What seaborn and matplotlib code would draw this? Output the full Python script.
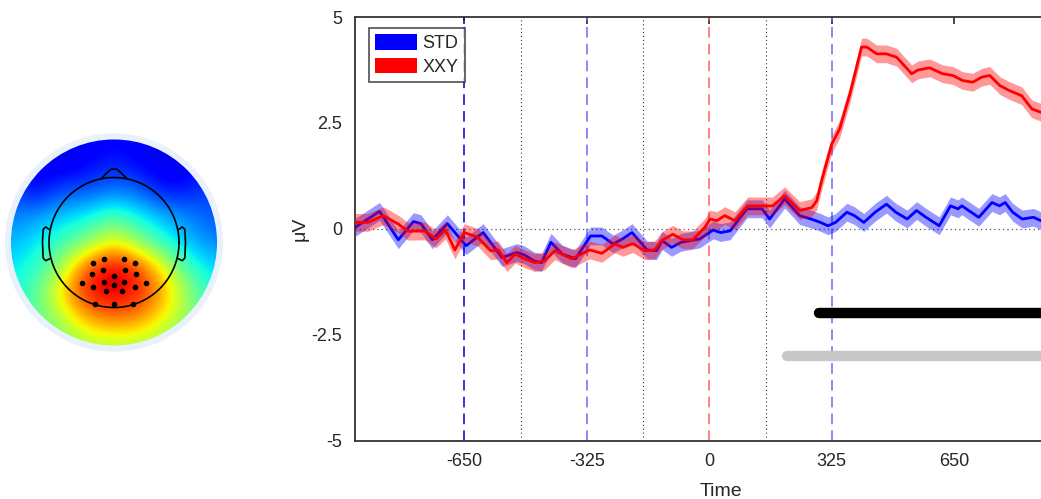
import numpy as np
import pandas as pd
import matplotlib
matplotlib.use("Agg")
import matplotlib.pyplot as plt
from matplotlib.patches import Circle, Patch
import seaborn as sns

# ---------------- ERP waveforms (time in ms, amplitude in microvolts) ----------------
std_time = [-940, -875, -825, -785, -765, -735, -695, -645, -600, -550, -510, -490,
            -465, -445, -420, -390, -355, -315, -285, -255, -230, -205, -165, -140,
            -125, -100, -75, -25, 10, 30, 55, 100, 140, 160, 200, 240, 270, 295, 315,
            335, 365, 385, 410, 440, 470, 495, 525, 550, 575, 610, 640, 660, 670, 715,
            750, 770, 785, 805, 830, 860, 880]
std_amp = [0.03, 0.41, -0.26, 0.17, 0.12, -0.26, 0.12, -0.40, -0.09, -0.68, -0.56, -0.62,
           -0.76, -0.80, -0.32, -0.60, -0.71, -0.17, -0.17, -0.36, -0.24, -0.09, -0.50, -0.52,
           -0.28, -0.44, -0.32, -0.24, -0.03, -0.09, -0.05, 0.47, 0.47, 0.23, 0.70, 0.31, 0.23,
           0.15, 0.07, 0.15, 0.39, 0.31, 0.15, 0.39, 0.58, 0.39, 0.23, 0.43, 0.27, 0.07, 0.54,
           0.47, 0.54, 0.27, 0.62, 0.54, 0.62, 0.39, 0.23, 0.27, 0.19]

xxy_time = [-940, -905, -865, -825, -800, -755, -725, -700, -675, -650, -615, -580, -560,
            -537, -515, -490, -463, -437, -410, -365, -317, -285, -251, -229, -203, -171,
            -145, -126, -97, -70, -44, -12, 2, 20, 41, 68, 102, 134, 168, 200, 240, 272,
            285, 300, 325, 346, 373, 404, 418, 444, 470, 497, 537, 554, 585, 619, 646, 672,
            699, 723, 744, 771, 797, 829, 856, 880]
xxy_amp = [0.15, 0.15, 0.31, 0.11, -0.06, -0.05, -0.24, -0.03, -0.50, -0.09, -0.20, -0.52,
           -0.50, -0.80, -0.60, -0.71, -0.80, -0.76, -0.52, -0.71, -0.50, -0.58, -0.36, -0.44,
           -0.35, -0.52, -0.50, -0.28, -0.13, -0.26, -0.26, 0.03, 0.23, 0.19, 0.31, 0.19, 0.54,
           0.54, 0.54, 0.78, 0.43, 0.50, 0.66, 1.20, 2.00, 2.36, 3.18, 4.29, 4.29, 4.13, 4.13,
           4.05, 3.66, 3.75, 3.80, 3.66, 3.62, 3.50, 3.46, 3.58, 3.62, 3.38, 3.26, 3.14, 2.83,
           2.75]

# standard error half-widths of the shaded bands
std_sem = 0.21
xxy_sem = 0.21

conditions = ["STD", "XXY"]
cond_colors = {"STD": "#0000ff", "XXY": "#ff0000"}

# event markers
blue_events = [-650, -325, 325]
red_events = [0]
dotted_events = [-500, -175, 150]

# significance bars: (start time, level)
sig_black = (290, -2.0)
sig_gray = (205, -3.0)

x_ticks = [-650, -325, 0, 325, 650]
y_ticks = [-5, -2.5, 0, 2.5, 5]
y_tick_labels = ["-5", "-2.5", "0", "2.5", "5"]

# ---------------- scalp map values (rows top->bottom, columns left->right) ----------------
topo_values = [
    [0.15, 0.12, 0.10, 0.10, 0.12, 0.10, 0.10, 0.12, 0.15],
    [0.15, 0.12, 0.08, 0.12, 0.16, 0.12, 0.08, 0.12, 0.15],
    [0.20, 0.10, 0.20, 0.20, 0.24, 0.22, 0.12, 0.15, 0.20],
    [0.25, 0.28, 0.33, 0.36, 0.44, 0.36, 0.30, 0.25, 0.20],
    [0.30, 0.35, 0.42, 0.50, 0.66, 0.50, 0.38, 0.30, 0.25],
    [0.35, 0.40, 0.55, 0.86, 0.95, 0.86, 0.62, 0.40, 0.33],
    [0.38, 0.45, 0.70, 0.90, 0.93, 0.88, 0.72, 0.50, 0.38],
    [0.42, 0.45, 0.55, 0.72, 0.78, 0.75, 0.62, 0.50, 0.42],
    [0.45, 0.45, 0.50, 0.55, 0.55, 0.55, 0.50, 0.45, 0.45],
]
elec_x = [-0.32, -0.15, 0.15, 0.32, -0.17, 0.17, -0.34, 0.0, 0.34, -0.49, -0.15, 0.15,
          0.49, -0.32, 0.0, 0.32, -0.12, 0.12, -0.29, 0.0, 0.29]
elec_y = [-0.31, -0.25, -0.25, -0.31, -0.42, -0.42, -0.49, -0.51, -0.49, -0.62, -0.60,
          -0.60, -0.62, -0.69, -0.66, -0.69, -0.75, -0.75, -0.94, -0.95, -0.94]

# ---------------- style ----------------
sns.set_style("white")
plt.rcParams["font.family"] = ["Liberation Sans", "DejaVu Sans"]
plt.rcParams["text.color"] = "#262626"
plt.rcParams["axes.labelcolor"] = "#262626"
plt.rcParams["xtick.color"] = "#262626"
plt.rcParams["ytick.color"] = "#262626"

W, H = 1041, 499
fig = plt.figure(figsize=(W / 100, H / 100), dpi=100)

xlim = (-940, 1000)
px_per_ms = 0.3769
ax_left = 355
ax_top, ax_bottom = 17, 440.5
ax_w = (xlim[1] - xlim[0]) * px_per_ms
ax = fig.add_axes([ax_left / W, 1 - ax_bottom / H, ax_w / W, (ax_bottom - ax_top) / H])

# reference lines
ax.axhline(0, color="#555555", lw=0.9, ls=(0, (1, 2.5)), zorder=1)
for t in dotted_events:
    ax.axvline(t, color="#333333", lw=0.8, ls=(0, (1, 2.5)), zorder=1)
for i, t in enumerate(blue_events):
    ax.axvline(t, color="#0000dd" if i == 0 else "#6a6aff", lw=1.1,
               ls=(0, (7, 4)), zorder=1.5)
for t in red_events:
    ax.axvline(t, color="#ff6060", lw=1.1, ls=(0, (7, 4)), zorder=1.5)

# waveforms with standard-error bands
std_df = pd.DataFrame({"time": std_time, "amp": std_amp, "cond": "STD"})
xxy_df = pd.DataFrame({"time": xxy_time, "amp": xxy_amp, "cond": "XXY"})

ax.fill_between(std_df["time"], std_df["amp"] - std_sem, std_df["amp"] + std_sem,
                color=cond_colors["STD"], alpha=0.4, lw=0, zorder=2)
sns.lineplot(data=std_df, x="time", y="amp", color=cond_colors["STD"], lw=2.0,
             sort=False, estimator=None, ax=ax, zorder=3)
ax.fill_between(xxy_df["time"], xxy_df["amp"] - xxy_sem, xxy_df["amp"] + xxy_sem,
                color=cond_colors["XXY"], alpha=0.4, lw=0, zorder=4)
sns.lineplot(data=xxy_df, x="time", y="amp", color=cond_colors["XXY"], lw=2.0,
             sort=False, estimator=None, ax=ax, zorder=5)

# significance bars
ax.plot([sig_black[0], xlim[1] + 50], [sig_black[1]] * 2, color="black", lw=7.5,
        solid_capstyle="round", zorder=6, clip_on=False)
ax.plot([sig_gray[0], xlim[1] + 50], [sig_gray[1]] * 2, color="#c8c8c8", lw=7.5,
        solid_capstyle="round", zorder=6, clip_on=False)

ax.set_xlim(*xlim)
ax.set_ylim(-5, 5)
ax.set_xticks(x_ticks)
ax.set_xticklabels([str(v) for v in x_ticks])
ax.set_yticks(y_ticks)
ax.set_yticklabels(y_tick_labels)
ax.tick_params(axis="both", direction="in", length=5, width=1.2, labelsize=13,
               top=True, right=True, pad=9)
for side in ["left", "bottom", "top", "right"]:
    ax.spines[side].set_color("#333333")
    ax.spines[side].set_linewidth(1.3)
ax.set_xlabel("Time", fontsize=14, labelpad=9)
ax.set_ylabel("μV", fontsize=14, labelpad=2)

handles = [Patch(facecolor=cond_colors[c], edgecolor="none") for c in conditions]
leg = ax.legend(handles, conditions, loc="upper left",
                bbox_to_anchor=(14 / ax_w, 1 - 11 / (ax_bottom - ax_top)),
                frameon=True, fancybox=False, fontsize=13, handlelength=2.3,
                handleheight=0.95, handletextpad=0.3, labelspacing=0.3,
                borderpad=0.35, borderaxespad=0)
leg.get_frame().set_edgecolor("#333333")
leg.get_frame().set_linewidth(1.3)

# ---------------- scalp map ----------------
unit = 65.0
half = 1.75
cx, cy = 114, 242.5
tax = fig.add_axes([(cx - half * unit) / W, 1 - (cy + half * unit) / H,
                    2 * half * unit / W, 2 * half * unit / H])
tax.set_xlim(-half, half)
tax.set_ylim(-half, half)
tax.set_aspect("equal")
tax.axis("off")

tax.add_patch(Circle((0, 0), 1.68, facecolor="#e9f2fc", edgecolor="none", zorder=0))
img = tax.imshow(np.array(topo_values), extent=(-1.8, 1.8, -1.8, 1.8), cmap="jet",
                 vmin=0, vmax=1, interpolation="bicubic", origin="upper", zorder=1)
img.set_clip_path(Circle((0, 0), 1.585, transform=tax.transData))

theta = np.linspace(0, 2 * np.pi, 200)
tax.plot(np.cos(theta), np.sin(theta), color="black", lw=1.2, zorder=3)
tax.plot([-0.2, -0.1, -0.04, 0.04, 0.1, 0.2], [0.98, 1.08, 1.13, 1.13, 1.08, 0.98],
         color="black", lw=1.2, zorder=3)
for s in (-1, 1):
    tax.plot([s * 0.995, s * 1.05, s * 1.09, s * 1.1, s * 1.09, s * 1.05, s * 0.99],
             [0.2, 0.24, 0.2, 0.0, -0.24, -0.28, -0.25], color="black", lw=1.2, zorder=3)
tax.scatter(elec_x, elec_y, s=9, color="black", zorder=4)

fig.savefig("out.png", dpi=100)
